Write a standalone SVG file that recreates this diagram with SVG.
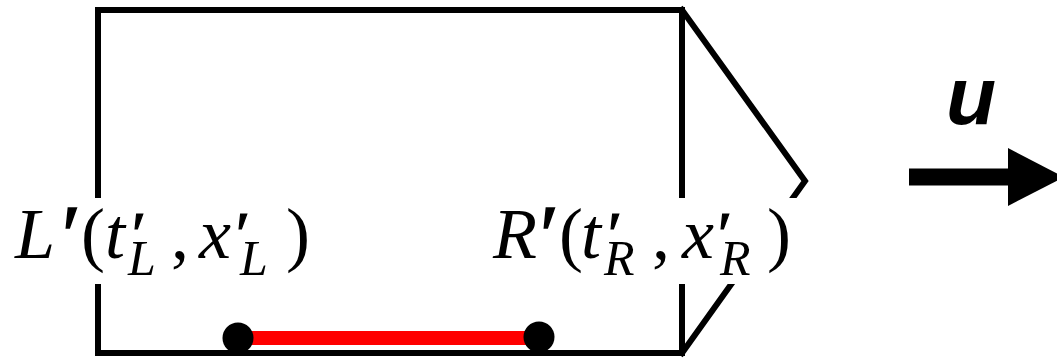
<svg xmlns="http://www.w3.org/2000/svg" width="1057" height="361" viewBox="0 0 1057 361">
<style>
.ln{fill:none;stroke:#000;stroke-width:6;stroke-linejoin:miter;stroke-linecap:square}
.lbl{font-family:"Liberation Serif","Times New Roman",serif;font-size:72px;fill:#000}
.it{font-style:italic}
.sub{font-style:italic;font-size:50px}
.pr{font-size:84px;font-style:italic;stroke:#000;stroke-width:1.5}
.pr2{font-size:64px;font-style:italic;stroke:#000;stroke-width:1.2}
.mask{fill:#fff;stroke:none}
</style>
<rect width="1057" height="361" fill="#fff"/>
<g id="frame">
<rect class="ln" x="98" y="10" width="584" height="343"/>
<polyline class="ln" points="682,10 805,181 682,353"/>
</g>
<g id="label-L">
<rect class="mask" x="8" y="198" width="310" height="86"/>
<text class="lbl" y="258"><tspan class="it" x="15">L</tspan><tspan class="pr" x="57" y="264">′</tspan><tspan x="81" y="258">(</tspan><tspan class="it" x="105">t</tspan><tspan class="pr2" x="128" y="256">′</tspan><tspan class="sub" x="128" y="275">L</tspan><tspan x="171" y="258">,</tspan><tspan class="it" x="199">x</tspan><tspan class="pr2" x="232" y="256">′</tspan><tspan class="sub" x="240" y="275">L</tspan><tspan x="286" y="258">)</tspan></text>
</g>
<g id="label-R">
<rect class="mask" x="486" y="198" width="330" height="86"/>
<text class="lbl" y="258"><tspan class="it" x="493">R</tspan><tspan class="pr" x="535" y="264">′</tspan><tspan x="559" y="258">(</tspan><tspan class="it" x="581">t</tspan><tspan class="pr2" x="604" y="256">′</tspan><tspan class="sub" x="604" y="275">R</tspan><tspan x="652" y="258">,</tspan><tspan class="it" x="682">x</tspan><tspan class="pr2" x="714" y="256">′</tspan><tspan class="sub" x="720" y="275">R</tspan><tspan x="767" y="258">)</tspan></text>
</g>
<g id="segment">
<line x1="238" y1="338" x2="539" y2="338" stroke="#f00" stroke-width="14"/>
<circle cx="238" cy="338" r="15.5" fill="#000"/>
<circle cx="539" cy="337" r="15.5" fill="#000"/>
</g>
<g id="velocity">
<line x1="909" y1="177" x2="1010" y2="177" stroke="#000" stroke-width="17"/>
<polygon points="1008,148 1064,177 1008,206" fill="#000"/>
<text x="946" y="124" font-family="'Liberation Sans',Arial,sans-serif" font-weight="bold" font-style="italic" font-size="82">u</text>
</g>
</svg>
